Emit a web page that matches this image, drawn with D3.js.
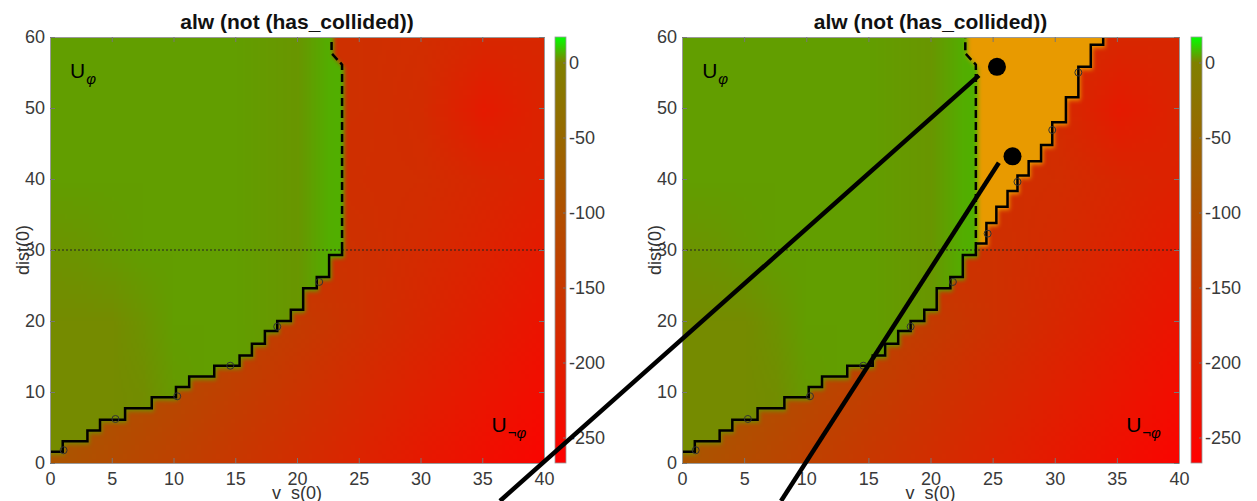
<!DOCTYPE html>
<html><head><meta charset="utf-8">
<script src="https://cdn.jsdelivr.net/npm/d3@7"></script>
<style>
html,body{margin:0;padding:0;background:#fff;}
svg{display:block;}
text{font-family:Helvetica,"Liberation Sans",Arial,sans-serif;}
</style></head><body>
<svg id="chart" width="1257" height="501"></svg>
<script>
// ---------------- data ----------------
const titleText = "alw (not (has_collided))";
const xLabel = "v_s(0)";
const yLabel = "dist(0)";
const xTicks = [0,5,10,15,20,25,30,35,40];
const yTicks = [0,10,20,30,40,50,60];
const cbTicks = [0,-50,-100,-150,-200,-250];
const cbDomain = [-267, 17];
const cmapValues = [-267, 0, 17];
const cmapColors = ["#ff0000", "#808000", "#00ff00"];

// robustness field, unsafe side (rows: dist 0..60, cols: v_s 0..40)
const gridD = [0,10,20,30,40,50,60];
const gridVRed = [0,5,10,15,20,25,30,35,40];
const redField = [
  [-90,-111,-132,-153,-174,-195,-216,-237,-258],
  [-75,-96,-117,-138,-159,-180,-201,-222,-243],
  [-60,-81,-102,-123,-144,-165,-186,-207,-228],
  [-120,-130,-140,-150,-160,-165,-178,-195,-212],
  [-150,-155,-160,-163,-165,-168,-172,-185,-198],
  [-160,-160,-162,-163,-164,-166,-175,-212,-192],
  [-160,-160,-162,-163,-164,-166,-172,-185,-185]
];
// robustness field, safe side (cols: v_s 0..25 step 2.5)
const gridVGreen = [0,2.5,5,7.5,10,12.5,15,17.5,20,22.5,25];
const greenField = [
  [1.5,1.5,1.5,2.0,3.0,4.0,4.0,4.0,4.0,4.0,4.0],
  [1.5,1.5,1.5,1.8,3.5,4.0,4.0,4.0,3.5,5.0,6.0],
  [1.5,1.5,1.5,2.5,4.0,4.0,4.0,3.5,3.0,6.0,7.0],
  [2.5,2.8,3.5,4.0,4.0,4.0,4.0,3.5,3.0,6.0,7.0],
  [4.0,4.0,4.0,4.0,4.0,4.0,4.0,3.5,3.0,6.0,7.0],
  [4.0,4.0,4.0,4.0,4.0,4.0,4.0,3.5,3.0,6.0,7.0],
  [4.0,4.0,4.0,4.0,4.0,4.0,4.0,3.5,3.0,6.0,7.0]
];

// boundary staircase (lower) : step-after corners
const lowerStepV = [0,1.03,3.03,4.05,6.08,8.24,10.2,11.27,13.3,15.35,16.35,17.4,18.4,19.5,20.5,21.6,22.6,23.65];
const lowerStepD = [1.6,3.06,4.56,6.1,7.7,9.27,10.7,12.2,13.7,15.15,16.8,18.6,20,21.6,24.6,26.2,29.3,30];
// dashed boundary
const dashV = [23.65,23.65,22.8,22.8];
const dashD = [30,56.1,57.7,60];
// upper staircase (right panel)
const rightStepV = [23.65,24.5,25.3,26.2,27.0,27.9,28.9,29.8,30.9,31.9,32.9,33.9];
const rightStepD = [30.9,33.8,36.1,38.3,40.5,42.5,44.8,48.0,51.5,55.8,58.9,60];
// sample markers
const markerV = [1.1,5.3,10.3,14.6,18.4,21.8];
const markerD = [1.8,6.2,9.4,13.7,19.2,25.5];
const rightMarkerV = [24.6,27.0,29.8,31.9];
const rightMarkerD = [32.3,39.6,46.9,55.0];
const highlightColor = "#e89a00";
// callouts (right panel coordinates)
const dotV = [25.35,26.6];
const dotD = [55.8,43.2];
const calloutStartV = [23.9,25.5];
const calloutStartD = [54.6,42.3];
const calloutEndV = [-14.65,7.97];
const calloutEndD = [-5.35,-5.35];
const labelSafe = ["U","φ"];
const labelUnsafe = ["U","¬φ"];

// ---------------- layout ----------------
const panels = [
  {x0:50, x1:544, cb0:555, cb1:566, highlight:false},
  {x0:682, x1:1179, cb0:1191, cb1:1202, highlight:true}
];
const plotTop = 37, plotBottom = 463;
const tickColor = "#3a3a3a", frameColor = "#9a9a9a";
const fmt = d => String(d);

const svg = d3.select("#chart");
const defs = svg.append("defs");
defs.append("filter").attr("id","soft").attr("x","-5%").attr("y","-5%").attr("width","110%").attr("height","110%")
  .append("feGaussianBlur").attr("stdDeviation",2);

const cmap = d3.scaleLinear().domain(cmapValues).range(cmapColors).clamp(true);

function fieldURL(field, vs) {
  const c = document.createElement("canvas");
  c.width = vs.length; c.height = gridD.length;
  const ctx = c.getContext("2d");
  const img = ctx.createImageData(c.width, c.height);
  for (let r = 0; r < c.height; r++) {
    const di = c.height - 1 - r;
    for (let k = 0; k < c.width; k++) {
      const col = d3.rgb(cmap(field[di][k]));
      const o = (r * c.width + k) * 4;
      img.data[o] = col.r; img.data[o+1] = col.g; img.data[o+2] = col.b; img.data[o+3] = 255;
    }
  }
  ctx.putImageData(img, 0, 0);
  return c.toDataURL();
}
const redURL = fieldURL(redField, gridVRed);
const greenURL = fieldURL(greenField, gridVGreen);

function stepPoints(V, D) {
  const pts = [];
  for (let i = 0; i < V.length; i++) {
    pts.push([V[i], D[i]]);
    if (i < V.length - 1) pts.push([V[i+1], D[i]]);
  }
  return pts;
}

// colorbar gradient
const grad = defs.append("linearGradient").attr("id","cbgrad").attr("x1",0).attr("y1",1).attr("x2",0).attr("y2",0);
cmapValues.forEach((v,i) => grad.append("stop")
  .attr("offset", (v - cbDomain[0]) / (cbDomain[1] - cbDomain[0]))
  .attr("stop-color", cmapColors[i]));

let rightScales = null;

panels.forEach((p, pi) => {
  const xs = d3.scaleLinear().domain([0,40]).range([p.x0, p.x1]);
  const ys = d3.scaleLinear().domain([0,60]).range([plotBottom, plotTop]);
  if (p.highlight) rightScales = {xs, ys};
  const toPx = pts => pts.map(([v,d]) => [xs(v), ys(d)]);
  const g = svg.append("g");

  defs.append("clipPath").attr("id","clip"+pi).append("rect")
    .attr("x",p.x0).attr("y",plotTop).attr("width",p.x1-p.x0).attr("height",plotBottom-plotTop);

  const layer = g.append("g").attr("clip-path","url(#clip"+pi+")");

  function placeImage(url, vs) {
    const dv = vs[1]-vs[0], dd = gridD[1]-gridD[0];
    const x = xs(vs[0]-dv/2), x2 = xs(vs[vs.length-1]+dv/2);
    const y = ys(gridD[gridD.length-1]+dd/2), y2 = ys(gridD[0]-dd/2);
    return layer.append("image").attr("href",url)
      .attr("x",x).attr("y",y).attr("width",x2-x).attr("height",y2-y)
      .attr("preserveAspectRatio","none").style("image-rendering","auto");
  }
  placeImage(redURL, gridVRed);

  // orange highlighted region
  if (p.highlight) {
    const oPts = [[20, rightStepD[0]], ...stepPoints(rightStepV, rightStepD),
      [rightStepV[rightStepV.length-1], 66], [20, 66]];
    layer.append("path").attr("d", d3.line()(toPx(oPts)) + "Z")
      .attr("fill", highlightColor).attr("filter","url(#soft)").attr("transform","translate(2,3)");
  }

  // green safe region with soft edge
  const gPts = [[-3,66],[-3,lowerStepD[0]], ...stepPoints(lowerStepV, lowerStepD),
    ...dashV.slice(1).map((v,i)=>[v,dashD[i+1]]), [dashV[dashV.length-1], 66]];
  const mask = defs.append("mask").attr("id","gmask"+pi).attr("maskUnits","userSpaceOnUse")
    .attr("x",0).attr("y",0).attr("width",1257).attr("height",501);
  mask.append("path").attr("d", d3.line()(toPx(gPts)) + "Z").attr("fill","#fff")
    .attr("filter","url(#soft)").attr("transform","translate(2,3)");
  placeImage(greenURL, gridVGreen).attr("mask","url(#gmask"+pi+")");

  // dotted reference line at dist = 30
  layer.append("line").attr("x1",xs(0)).attr("x2",xs(40)).attr("y1",ys(30)).attr("y2",ys(30))
    .attr("stroke","#222").attr("stroke-width",1).attr("stroke-dasharray","2,2");

  // staircases
  const stepLine = d3.line().x(d=>xs(d[0])).y(d=>ys(d[1])).curve(d3.curveStepAfter);
  layer.append("path").attr("d", stepLine(lowerStepV.map((v,i)=>[v,lowerStepD[i]])))
    .attr("fill","none").attr("stroke","#000").attr("stroke-width",2.5);
  layer.append("path").attr("d", d3.line()(toPx(dashV.map((v,i)=>[v,dashD[i]]))))
    .attr("fill","none").attr("stroke","#000").attr("stroke-width",2.5).attr("stroke-dasharray","8,4");
  layer.selectAll(".mk").data(markerV.map((v,i)=>[v,markerD[i]])).enter().append("circle")
    .attr("cx",d=>xs(d[0])).attr("cy",d=>ys(d[1])).attr("r",3.5)
    .attr("fill","none").attr("stroke","#333").attr("stroke-width",1);
  if (p.highlight) {
    layer.append("path").attr("d", stepLine(rightStepV.map((v,i)=>[v,rightStepD[i]])))
      .attr("fill","none").attr("stroke","#000").attr("stroke-width",2.5);
    layer.selectAll(".mk2").data(rightMarkerV.map((v,i)=>[v,rightMarkerD[i]])).enter().append("circle")
      .attr("cx",d=>xs(d[0])).attr("cy",d=>ys(d[1])).attr("r",3.5)
      .attr("fill","none").attr("stroke","#333").attr("stroke-width",1);
  }

  // region labels
  const t1 = g.append("text").attr("x",xs(1.62)).attr("y",ys(54.2)).attr("fill","#000").attr("font-size",21);
  t1.append("tspan").text(labelSafe[0]);
  t1.append("tspan").attr("dy",6).attr("dx",1).attr("font-size",15).attr("font-style","italic").text(labelSafe[1]);
  const t2 = g.append("text").attr("x",xs(35.75)).attr("y",ys(4.4)).attr("fill","#000").attr("font-size",21);
  t2.append("tspan").text(labelUnsafe[0]);
  t2.append("tspan").attr("dy",6).attr("dx",1).attr("font-size",15).attr("font-style","italic").text(labelUnsafe[1]);

  // axes
  function styleAxis(sel) {
    sel.selectAll(".domain").attr("stroke",frameColor);
    sel.selectAll(".tick line").attr("stroke","#777");
    sel.selectAll(".tick text").attr("fill",tickColor).attr("font-size",18)
      .attr("font-family",'Helvetica,"Liberation Sans",Arial,sans-serif');
  }
  g.append("g").attr("transform",`translate(0,${plotBottom})`)
    .call(d3.axisBottom(xs).tickValues(xTicks).tickFormat(fmt).tickSize(-5).tickSizeOuter(0).tickPadding(9)).call(styleAxis);
  g.append("g").attr("transform",`translate(0,${plotTop})`)
    .call(d3.axisTop(xs).tickValues(xTicks).tickSize(-5).tickSizeOuter(0).tickFormat("")).call(styleAxis);
  g.append("g").attr("transform",`translate(${p.x0},0)`)
    .call(d3.axisLeft(ys).tickValues(yTicks).tickFormat(fmt).tickSize(-5).tickSizeOuter(0).tickPadding(5)).call(styleAxis);
  g.append("g").attr("transform",`translate(${p.x1},0)`)
    .call(d3.axisRight(ys).tickValues(yTicks).tickSize(-5).tickSizeOuter(0).tickFormat("")).call(styleAxis);

  // axis titles
  g.append("text").attr("x",(p.x0+p.x1)/2).attr("y",29).attr("text-anchor","middle")
    .attr("font-weight","bold").attr("font-size",21).attr("fill","#111").text(titleText);
  g.append("text").attr("x",(p.x0+p.x1)/2).attr("y",499).attr("text-anchor","middle")
    .attr("font-size",18).attr("fill","#333").text(xLabel);
  g.append("text").attr("transform",`translate(${p.x0-21},${(plotTop+plotBottom)/2}) rotate(-90)`)
    .attr("text-anchor","middle").attr("font-size",18).attr("fill","#333").text(yLabel);

  // colorbar
  const cs = d3.scaleLinear().domain(cbDomain).range([plotBottom, plotTop]);
  g.append("rect").attr("x",p.cb0).attr("y",plotTop).attr("width",p.cb1-p.cb0).attr("height",plotBottom-plotTop)
    .attr("fill","url(#cbgrad)").attr("stroke",frameColor).attr("stroke-width",0.8);
  g.append("g").attr("transform",`translate(${p.cb1},0)`)
    .call(d3.axisRight(cs).tickValues(cbTicks).tickFormat(fmt).tickSize(-3).tickSizeOuter(0).tickPadding(3))
    .call(styleAxis).call(s=>s.select(".domain").remove());
});

// callout annotations (right panel coordinates)
const {xs, ys} = rightScales;
const ov = svg.append("g");
calloutStartV.forEach((v,i) => {
  ov.append("line").attr("x1",xs(v)).attr("y1",ys(calloutStartD[i]))
    .attr("x2",xs(calloutEndV[i])).attr("y2",ys(calloutEndD[i]))
    .attr("stroke","#000").attr("stroke-width",4.5);
});
ov.selectAll(".dot").data(dotV.map((v,i)=>[v,dotD[i]])).enter().append("circle")
  .attr("cx",d=>xs(d[0])).attr("cy",d=>ys(d[1])).attr("r",9).attr("fill","#000");
</script>
</body></html>
